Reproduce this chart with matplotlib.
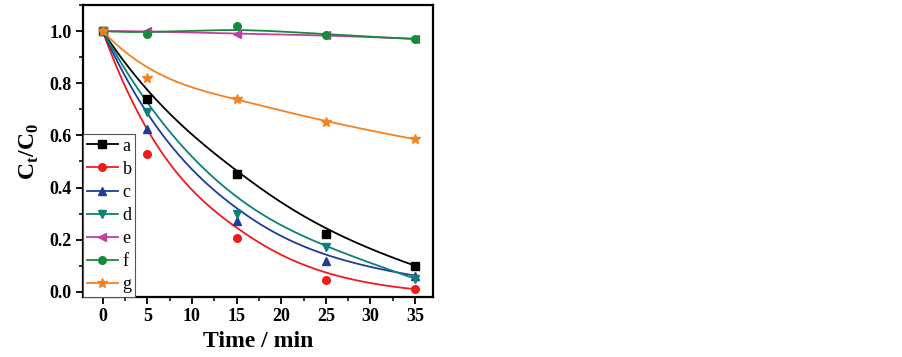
import numpy as np
import matplotlib
matplotlib.use("Agg")
import matplotlib.pyplot as plt
from matplotlib.lines import Line2D
from matplotlib.ticker import MultipleLocator, FormatStrFormatter

time_min = [0, 5, 15, 25, 35]
series_labels = ["a", "b", "c", "d", "e", "f", "g"]
a_vals = [1.0, 0.74, 0.45, 0.22, 0.10]
b_vals = [1.0, 0.53, 0.205, 0.045, 0.01]
c_vals = [1.0, 0.625, 0.27, 0.12, 0.062]
d_vals = [1.0, 0.69, 0.30, 0.17, 0.05]
e_vals = [1.0, 1.0, 0.988, 0.985, 0.97]
f_vals = [1.0, 0.99, 1.02, 0.985, 0.97]
g_vals = [1.0, 0.82, 0.74, 0.65, 0.585]

colors = ["#000000", "#ee1c1c", "#1f3c9c", "#0f7f7c", "#c23fa0", "#168a3c", "#f5821f"]
markers = ["s", "o", "^", "v", "<", "o", "*"]


def bspline(xs, ys, n=300, k=3):
    P = np.column_stack([xs, ys]).astype(float)
    m = len(P)
    inner = np.linspace(0, 1, m - k + 1)
    knots = np.concatenate([[0] * k, inner, [1] * k])
    ts = np.linspace(0, 1, n)
    out = []
    for t in ts:
        if t >= 1:
            out.append(P[-1]); continue
        i = np.searchsorted(knots, t, side="right") - 1
        d = [P[j + i - k].copy() for j in range(k + 1)]
        for r in range(1, k + 1):
            for j in range(k, r - 1, -1):
                ii = j + i - k
                alpha = (t - knots[ii]) / (knots[ii + k + 1 - r] - knots[ii])
                d[j] = (1 - alpha) * d[j - 1] + alpha * d[j]
        out.append(d[k])
    out = np.array(out)
    return out[:, 0], out[:, 1]


plt.rcParams["font.family"] = ["Liberation Serif", "DejaVu Serif"]
fig = plt.figure(figsize=(9.02, 3.57), dpi=100)
ax = fig.add_axes([0.092, 0.168, 0.388, 0.818])

all_vals = [a_vals, b_vals, c_vals, d_vals, e_vals, f_vals, g_vals]
handles = []
for lab, vals, col, mk in zip(series_labels, all_vals, colors, markers):
    cx, cy = bspline(time_min, vals)
    ax.plot(cx, cy, color=col, lw=1.3, zorder=2)
    ms = 7.5 if mk == "*" else 5.5
    ax.plot(time_min, vals, ls="none", marker=mk, color=col, ms=ms, zorder=3)
    handles.append(Line2D([], [], color=col, lw=1.3, marker=mk, ms=ms))

ax.set_xlim(-2.2, 37)
ax.set_ylim(-0.02, 1.1)
ax.xaxis.set_major_locator(MultipleLocator(5))
ax.xaxis.set_minor_locator(MultipleLocator(2.5))
ax.yaxis.set_major_locator(MultipleLocator(0.2))
ax.yaxis.set_minor_locator(MultipleLocator(0.1))
ax.yaxis.set_major_formatter(FormatStrFormatter("%.1f"))
ax.tick_params(which="major", direction="out", length=5, width=1.3, labelsize=13,
               top=False, right=False, pad=3)
ax.tick_params(which="minor", direction="out", length=3, width=1.1, top=False, right=False)
for lbl in ax.get_xticklabels() + ax.get_yticklabels():
    lbl.set_fontweight("bold")
for s in ax.spines.values():
    s.set_linewidth(1.6)

ax.set_xlabel("Time / min", fontsize=17, fontweight="bold", labelpad=4)
ax.set_ylabel(r"C$_\mathregular{t}$/C$_\mathregular{0}$", fontsize=17, fontweight="bold", labelpad=6)

leg = ax.legend(handles, series_labels, loc="lower left", bbox_to_anchor=(0, 0), fontsize=13,
                frameon=True, fancybox=False, edgecolor="#555555", framealpha=1,
                handlelength=1.75, handletextpad=0.25, labelspacing=0.34, borderpad=0.2,
                borderaxespad=0)
leg.get_frame().set_linewidth(0.8)

fig.savefig("out.png", dpi=100)
